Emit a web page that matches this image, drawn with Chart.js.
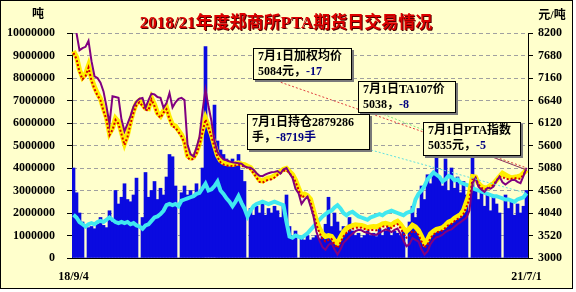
<!DOCTYPE html>
<html>
<head>
<meta charset="utf-8">
<script src="https://cdn.jsdelivr.net/npm/chart.js@4.4.0/dist/chart.umd.min.js"></script>
<style>
html,body{margin:0;padding:0;background:#fff;}
#wrap{width:576px;height:292px;position:relative;}
</style>
</head>
<body>
<div id="wrap"><canvas id="c" width="576" height="292"></canvas></div>
<script>
// first and last trading day shown under the x axis
var startLabel = '18/9/4';
var endLabel = '21/7/1';

// daily volume, tonnes (blue bars)
var volume = [
 4000000,2900000,2000000,1600000,0,1350000,1400000,1300000,1500000,1800000,
 1450000,1350000,2100000,1600000,3000000,2400000,2700000,3300000,2600000,2500000,
 2800000,3550000,0,1800000,3800000,2700000,3000000,3400000,2600000,3100000,
 2800000,3600000,4600000,4500000,3200000,0,2900000,3200000,2800000,3000000,
 2700000,3300000,2900000,4000000,9400000,6000000,5800000,6800000,5200000,4800000,
 4600000,4400000,4300000,4400000,4200000,4600000,3900000,3400000,0,2200000,
 1900000,2300000,2000000,2400000,1900000,2200000,2000000,2300000,2100000,1800000,
 2300000,2800000,1400000,1000000,1200000,0,900000,800000,1000000,800000,
 900000,1000000,850000,1100000,1500000,2700000,1400000,2000000,1600000,1200000,
 1400000,1100000,1800000,1200000,1000000,1100000,900000,1000000,1200000,1000000,
 1100000,950000,1300000,1000000,1200000,1400000,1000000,1200000,1100000,1000000,
 1200000,0,1600000,2300000,1800000,2200000,3200000,2600000,3700000,3300000,
 3800000,5200000,3600000,3200000,4400000,3000000,4000000,3100000,3600000,2900000,
 3400000,2800000,0,5300000,3000000,2600000,2900000,2300000,2800000,2100000,
 2700000,2400000,2000000,0,2800000,2200000,2500000,1900000,2400000,2000000,
 2300000,3000000
];

// open interest, tonnes (cyan line, left axis)
var openInterest = [
 1920000,1800000,1600000,1500000,1400000,1500000,1550000,1500000,1600000,1650000,
 1600000,1700000,1800000,1700000,1600000,1550000,1600000,1550000,1600000,1500000,
 1550000,1450000,1400000,1300000,1450000,1500000,1650000,1800000,1850000,1950000,
 2100000,2350000,2400000,2350000,2400000,2300000,2550000,2600000,2650000,2700000,
 2750000,2850000,2900000,3100000,3300000,3000000,3050000,3200000,3400000,3000000,
 2850000,2650000,2500000,2300000,2500000,2750000,2450000,2200000,1850000,2100000,
 2300000,2400000,2450000,2500000,2450000,2400000,2450000,2500000,2450000,2400000,
 2350000,1600000,950000,900000,1000000,950000,900000,1000000,1100000,1250000,
 1400000,1550000,1700000,1850000,1950000,2050000,2100000,2250000,2350000,2200000,
 2000000,1900000,2000000,2050000,1950000,1850000,1800000,1750000,1700000,1800000,
 1850000,1900000,1950000,1900000,2000000,2050000,2100000,2050000,2000000,1950000,
 1900000,2000000,2050000,2100000,2600000,2850000,3000000,3200000,3500000,3650000,
 3800000,3700000,3600000,3400000,3500000,3650000,3600000,3450000,3500000,3350000,
 3300000,3250000,3200000,3100000,3050000,3000000,2950000,2900000,2850000,2800000,
 2750000,2750000,2700000,2650000,2600000,2600000,2550000,2500000,2600000,2650000,
 2700000,2879286
];

// weighted average price, yuan/t (purple line, right axis)
var avgPrice = [
 null,8200,7800,7850,7880,8020,7550,7200,7160,7050,
 6850,6500,6100,6740,6720,6700,6200,5930,6100,6280,
 6500,6620,6680,6700,6470,6650,6800,6780,6720,6700,
 6470,6580,6810,6480,6600,6680,6700,6650,5620,5400,
 5350,5550,5800,6400,6890,6500,6160,5700,5450,5350,
 5280,5260,5230,5210,5200,5190,5180,5120,5090,5085,
 5040,4960,4900,4890,4930,4960,4980,4990,5010,4950,
 5050,5080,4960,4850,4600,4500,4250,4350,4420,4200,
 3960,3600,3400,3250,3190,3300,3350,3200,3080,3200,
 3350,3420,3500,3560,3620,3650,3640,3600,3580,3560,
 3540,3540,3580,3620,3660,3640,3600,3650,3680,3560,
 3400,3270,3320,3460,3420,3380,3200,3080,3150,3320,
 3420,3480,3500,3540,3600,3640,3660,3720,3780,3830,
 3880,3940,4100,4730,4850,4650,4580,4530,4620,4600,
 4650,4780,4880,4750,4700,4750,4800,4810,4760,4730,
 4900,5084
];

// TA107 / main contract price, yuan/t (red dotted line)
var ta107Price = [
 7740,7600,7300,7130,7200,7400,7100,6900,6760,6640,
 6400,6200,5840,5960,6190,6100,5860,5610,5800,6100,
 6360,6540,6600,6510,6420,6410,6660,6510,6310,6240,
 6360,6440,6210,6040,6010,5910,5810,5660,5320,5270,
 5290,5410,5610,5910,6200,6010,5810,5560,5330,5210,
 5160,5140,5130,5120,5140,5160,5130,5120,5080,5050,
 4960,4860,4760,4740,4780,4810,4820,4860,4920,4960,
 5010,5030,4960,4890,4760,4580,4400,4430,4400,4300,
 4040,3760,3580,3440,3380,3420,3440,3320,3230,3360,
 3500,3580,3630,3670,3700,3700,3700,3670,3640,3650,
 3650,3640,3680,3720,3740,3720,3690,3750,3780,3690,
 3560,3470,3520,3630,3590,3530,3380,3240,3310,3460,
 3540,3590,3610,3640,3700,3760,3790,3850,3900,3940,
 4020,4180,4360,4820,4860,4700,4620,4580,4600,4640,
 4690,4790,4880,4870,4830,4820,4830,4850,4830,4830,
 4930,5038
];

// PTA index, yuan/t (thick yellow line)
var indexPrice = [
 7780,7650,7350,7170,7250,7450,7150,6950,6800,6680,
 6450,6250,5880,6000,6230,6150,5900,5650,5850,6150,
 6400,6580,6640,6550,6460,6450,6700,6550,6350,6280,
 6400,6480,6250,6080,6050,5950,5850,5700,5360,5310,
 5330,5450,5650,5950,6230,6050,5850,5600,5370,5250,
 5200,5180,5170,5160,5180,5200,5170,5160,5120,5090,
 5000,4900,4800,4780,4820,4850,4860,4900,4960,5000,
 5050,5070,5000,4930,4800,4620,4450,4480,4440,4360,
 4100,3850,3680,3560,3500,3520,3500,3400,3340,3480,
 3600,3680,3720,3750,3770,3760,3750,3730,3700,3720,
 3730,3720,3750,3790,3800,3780,3760,3820,3850,3780,
 3680,3620,3680,3760,3720,3640,3500,3350,3420,3560,
 3620,3660,3680,3700,3760,3830,3860,3920,3960,4000,
 4100,4300,4500,4880,4870,4720,4650,4620,4630,4680,
 4720,4800,4880,4960,4920,4880,4850,4870,4880,4900,
 4960,5035
];

// axis ranges and tick steps
var volMin = 0, volMax = 10000000, volStep = 1000000;
var priceMin = 3000, priceMax = 8200, priceStep = 520;

var titleText = '2018/21年度郑商所PTA期货日交易情况';

var labels = volume.map(function(v, i){
	if (i === 0) return startLabel;
	if (i === volume.length - 1) return endLabel;
	return '';
});

var FONT = "'Liberation Serif', 'Noto Sans CJK SC', serif";
Chart.defaults.font.family = FONT;
Chart.defaults.color = '#000';

function plainNum(v){ return String(v); }

function lastPoint(chart, idx){
	var pts = chart.getDatasetMeta(idx).data;
	return pts[pts.length - 1];
}

function drawBox(ctx, x, y, w, h, line1, line2, change){
	ctx.fillStyle = '#7a7a7a';
	ctx.fillRect(x + 2, y + 2, w, h);
	ctx.fillStyle = '#ffffcc';
	ctx.fillRect(x, y, w, h);
	ctx.strokeStyle = '#000';
	ctx.lineWidth = 1;
	ctx.strokeRect(x + 0.5, y + 0.5, w - 1, h - 1);
	ctx.font = 'bold 12px ' + FONT;
	ctx.textAlign = 'left';
	ctx.textBaseline = 'middle';
	ctx.fillStyle = '#000';
	ctx.fillText(line1, x + 5, y + 9);
	ctx.fillText(line2, x + 5, y + 24);
	var w2 = ctx.measureText(line2).width;
	ctx.fillStyle = '#000080';
	ctx.fillText(change, x + 5 + w2, y + 24);
}

function dotted(ctx, x1, y1, x2, y2, color){
	ctx.save();
	ctx.strokeStyle = color;
	ctx.lineWidth = 1;
	ctx.setLineDash([2, 2]);
	ctx.beginPath();
	ctx.moveTo(x1, y1);
	ctx.lineTo(x2, y2);
	ctx.stroke();
	ctx.restore();
}

var decor = {
	id: 'decor',
	beforeDraw: function(chart){
		var ctx = chart.ctx;
		ctx.save();
		ctx.fillStyle = '#fff';
		ctx.fillRect(0, 0, 576, 292);
		ctx.fillStyle = '#ffffcc';
		ctx.fillRect(0, 0, 573, 289);
		ctx.strokeStyle = '#000';
		ctx.lineWidth = 1;
		ctx.strokeRect(0.5, 0.5, 572, 288);
		ctx.restore();
	},
	afterDatasetsDraw: function(chart){
		var ctx = chart.ctx;
		ctx.save();
		// leader lines to the last points
		var pAvg = lastPoint(chart, 4), pTa = lastPoint(chart, 3),
			pOi = lastPoint(chart, 1), pIdx = lastPoint(chart, 2);
		dotted(ctx, 277, 81, pAvg.x, pAvg.y, '#e04040');
		dotted(ctx, 380, 113, pTa.x, pTa.y, '#80e080');
		dotted(ctx, 371, 150, pOi.x, pOi.y, '#60e0e0');
		ctx.strokeStyle = '#993366';
		ctx.beginPath();
		ctx.moveTo(487, 155);
		ctx.lineTo(pIdx.x, pIdx.y);
		ctx.stroke();

		drawBox(ctx, 253, 48, 99, 32, '7月1日加权均价', '5084元，', '-17');
		drawBox(ctx, 358, 81, 98, 32, '7月1日TA107价', '5038，', '-8');
		drawBox(ctx, 247, 114, 123, 36, '7月1日持仓2879286', '手，', '-8719手');
		drawBox(ctx, 423, 122, 98, 34, '7月1日PTA指数', '5035元，', '-5');

		// title and unit labels
		ctx.font = 'bold 17px ' + FONT;
		ctx.textAlign = 'center';
		ctx.textBaseline = 'middle';
		ctx.fillStyle = '#500000';
		ctx.fillText(titleText, 287, 25);
		ctx.fillStyle = '#dd0000';
		ctx.fillText(titleText, 286, 24);
		ctx.font = 'bold 12px ' + FONT;
		ctx.fillStyle = '#000';
		ctx.fillText('吨', 38, 15);
		ctx.fillText('元/吨', 552, 16);
		ctx.restore();
	}
};

new Chart(document.getElementById('c'), {
	type: 'bar',
	data: {
		labels: labels,
		datasets: [
			{
				type: 'bar', label: '成交量', data: volume, yAxisID: 'y',
				backgroundColor: '#0a0ae0', borderWidth: 0,
				barPercentage: 1, categoryPercentage: 1, order: 9
			},
			{
				type: 'line', label: '持仓', data: openInterest, yAxisID: 'y',
				borderColor: '#40e8f0', borderWidth: 4, pointRadius: 0, tension: 0, order: 5
			},
			{
				type: 'line', label: 'PTA指数', data: indexPrice, yAxisID: 'y1',
				borderColor: '#ffee00', borderWidth: 5, pointRadius: 0, tension: 0, order: 4
			},
			{
				type: 'line', label: 'TA107', data: ta107Price, yAxisID: 'y1',
				borderColor: '#d40000', borderWidth: 2, borderDash: [2, 2],
				pointRadius: 0, tension: 0, order: 3
			},
			{
				type: 'line', label: '加权均价', data: avgPrice, yAxisID: 'y1',
				borderColor: '#800080', borderWidth: 2, pointRadius: 0, tension: 0,
				spanGaps: false, order: 2
			}
		]
	},
	options: {
		responsive: false,
		animation: false,
		devicePixelRatio: 1,
		layout: { padding: { left: 0, right: 0, top: 33, bottom: 0 } },
		plugins: { legend: { display: false }, tooltip: { enabled: false } },
		scales: {
			x: {
				grid: { display: false, drawTicks: false },
				border: { color: '#000', width: 1 },
				ticks: {
					autoSkip: false, maxRotation: 0, padding: 12,
					font: { size: 12, weight: 'bold' }
				},
				afterFit: function(s){ s.height = 34; }
			},
			y: {
				position: 'left', min: volMin, max: volMax,
				grid: { color: '#a0a0a0', tickColor: '#000', tickLength: 5, tickBorderDash: [] },
				border: { color: '#000', width: 1, dash: [4, 3] },
				ticks: { stepSize: volStep, padding: 12, font: { size: 12, weight: 'bold' }, callback: plainNum },
				afterFit: function(s){ s.width = 72; }
			},
			y1: {
				position: 'right', min: priceMin, max: priceMax,
				grid: { drawOnChartArea: false, tickColor: '#000', tickLength: 5 },
				border: { color: '#000', width: 1 },
				ticks: { stepSize: priceStep, padding: 5, font: { size: 12, weight: 'bold' }, callback: plainNum },
				afterFit: function(s){ s.width = 48; }
			}
		}
	},
	plugins: [decor]
});
</script>
</body>
</html>
